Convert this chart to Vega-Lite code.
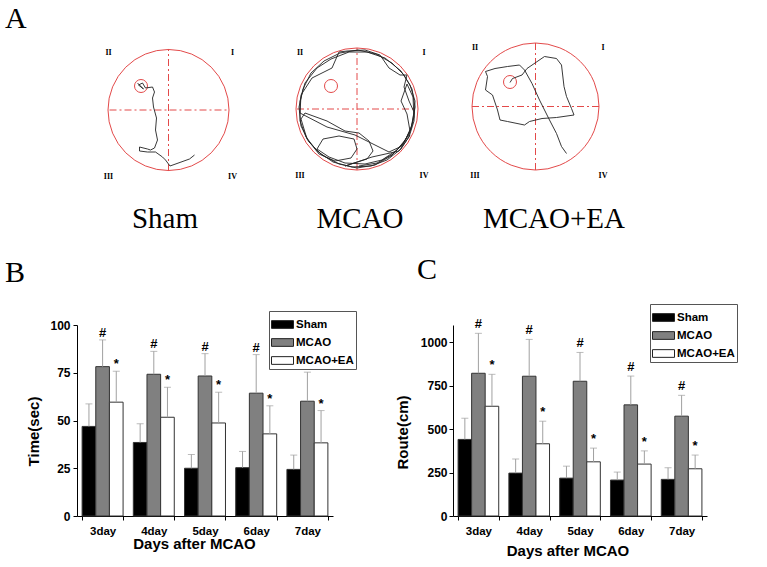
{
  "$schema": "https://vega.github.io/schema/vega-lite/v6.json",
  "background": "white",
  "padding": {"left": 5, "top": 4, "right": 0, "bottom": 0},
  "config": {
    "view": {"stroke": null},
    "font": "Liberation Sans",
    "title": {"color": "black"},
    "axis": {"labelFont": "Liberation Sans", "labelFontWeight": "bold", "titleFont": "Liberation Sans", "titleFontWeight": "bold", "titleFontSize": 15, "labelColor": "black", "titleColor": "black", "domainColor": "black", "tickColor": "black", "grid": false}
  },
  "resolve": {"scale": {"x": "independent", "y": "independent", "fill": "independent"}},
  "spacing": 20,
  "vconcat": [
    {
      "title": {"text": "A", "anchor": "start", "frame": "group", "font": "Liberation Serif", "fontSize": 30, "fontWeight": "normal", "dx": -72, "offset": -18, "baseline": "alphabetic"},
      "spacing": 33,
      "bounds": "flush",
      "resolve": {"scale": {"x": "independent", "y": "independent"}},
      "hconcat": [
        {
          "width": 166, "height": 145,
          "title": {"text": "Sham", "orient": "bottom", "anchor": "middle", "font": "Liberation Serif", "fontSize": 29, "fontWeight": "normal", "offset": 20, "dx": 5, "baseline": "top"},
          "encoding": {
            "x": {"field": "x", "type": "quantitative", "scale": {"domain": [-91.5, 74.5], "nice": false, "zero": false}, "axis": null},
            "y": {"field": "y", "type": "quantitative", "scale": {"domain": [-75, 70], "nice": false, "zero": false}, "axis": null}
          },
          "layer": [
            {"data": {"values": [{"x": 0, "y": 0}]}, "mark": {"type": "point", "shape": "circle", "size": 14641, "filled": false, "color": "#e34a4a", "strokeWidth": 1, "opacity": 1}},
            {"data": {"values": [{"x": -59, "x2": 59, "y": 0, "y2": 0}, {"x": 0, "x2": 0, "y": -61, "y2": 61}]}, "mark": {"type": "rule", "color": "#e34a4a", "strokeWidth": 1, "strokeDash": [7, 3, 2, 3]}, "encoding": {"x2": {"field": "x2"}, "y2": {"field": "y2"}}},
            {"data": {"values": [{"x": -27.5, "y": 24}]}, "mark": {"type": "point", "shape": "circle", "size": 169, "filled": false, "color": "#e34a4a", "strokeWidth": 1, "opacity": 1}},
            {"data": {"values": [
              {"i": 1, "x": 26, "y": -45}, {"i": 2, "x": 21, "y": -49}, {"i": 3, "x": 1.5, "y": -56}, {"i": 4, "x": -3, "y": -50}, {"i": 5, "x": -6, "y": -47}, {"i": 6, "x": -13, "y": -42}, {"i": 7, "x": -21, "y": -42}, {"i": 8, "x": -29, "y": -41}, {"i": 9, "x": -29, "y": -37}, {"i": 10, "x": -21, "y": -39}, {"i": 11, "x": -18, "y": -40}, {"i": 12, "x": -14, "y": -38}, {"i": 13, "x": -11, "y": -30}, {"i": 14, "x": -13, "y": -20}, {"i": 15, "x": -12, "y": -8}, {"i": 16, "x": -15, "y": 3}, {"i": 17, "x": -16, "y": 12}, {"i": 18, "x": -14, "y": 18}, {"i": 19, "x": -16, "y": 23}, {"i": 20, "x": -23, "y": 22}, {"i": 21, "x": -26, "y": 27}, {"i": 22, "x": -30, "y": 25}, {"i": 23, "x": -25, "y": 21}, {"i": 24, "x": -31, "y": 27}
            ]}, "mark": {"type": "line", "color": "#222222", "strokeWidth": 0.9}, "encoding": {"order": {"field": "i", "type": "quantitative"}}},
            {"data": {"values": [{"x": -60, "y": 57, "t": "II"}, {"x": 64, "y": 57, "t": "I"}, {"x": -60, "y": -67, "t": "III"}, {"x": 64, "y": -67, "t": "IV"}]}, "mark": {"type": "text", "font": "Liberation Serif", "fontWeight": "bold", "fontSize": 8, "align": "center", "baseline": "middle", "color": "black"}, "encoding": {"text": {"field": "t"}}}
          ]
        },
        {
          "width": 150, "height": 145,
          "title": {"text": "MCAO", "orient": "bottom", "anchor": "middle", "font": "Liberation Serif", "fontSize": 29, "fontWeight": "normal", "offset": 20, "dx": 9, "baseline": "top"},
          "encoding": {
            "x": {"field": "x", "type": "quantitative", "scale": {"domain": [-81, 69], "nice": false, "zero": false}, "axis": null},
            "y": {"field": "y", "type": "quantitative", "scale": {"domain": [-76, 69], "nice": false, "zero": false}, "axis": null}
          },
          "layer": [
            {"data": {"values": [{"x": 0, "y": 0}]}, "mark": {"type": "point", "shape": "circle", "size": 14884, "filled": false, "color": "#e34a4a", "strokeWidth": 1, "opacity": 1}},
            {"data": {"values": [{"x": -60, "x2": 60, "y": 0, "y2": 0}, {"x": 0, "x2": 0, "y": -61, "y2": 61}]}, "mark": {"type": "rule", "color": "#e34a4a", "strokeWidth": 1, "strokeDash": [7, 3, 2, 3]}, "encoding": {"x2": {"field": "x2"}, "y2": {"field": "y2"}}},
            {"data": {"values": [{"x": -26, "y": 23}]}, "mark": {"type": "point", "shape": "circle", "size": 169, "filled": false, "color": "#e34a4a", "strokeWidth": 1, "opacity": 1}},
            {"data": {"values": [
              {"i": 1, "x": 2, "y": -57}, {"i": 2, "x": 20, "y": -54}, {"i": 3, "x": 36, "y": -45}, {"i": 4, "x": 48, "y": -32}, {"i": 5, "x": 55, "y": -16}, {"i": 6, "x": 58, "y": 2}, {"i": 7, "x": 55, "y": 20}, {"i": 8, "x": 47, "y": 34}, {"i": 9, "x": 35, "y": 46}, {"i": 10, "x": 19, "y": 55},
              {"i": 11, "x": 1, "y": 59}, {"i": 12, "x": -17, "y": 56}, {"i": 13, "x": -33, "y": 48}, {"i": 14, "x": -46, "y": 36}, {"i": 15, "x": -54, "y": 20}, {"i": 16, "x": -58, "y": 2}, {"i": 17, "x": -56, "y": -17}, {"i": 18, "x": -48, "y": -33}, {"i": 19, "x": -35, "y": -46}, {"i": 20, "x": -18, "y": -55},
              {"i": 21, "x": 0, "y": -59}, {"i": 22, "x": 18, "y": -56}, {"i": 23, "x": 34, "y": -47}, {"i": 24, "x": 46, "y": -35}, {"i": 25, "x": 54, "y": -20}, {"i": 26, "x": 57, "y": -3}, {"i": 27, "x": 52, "y": 8}, {"i": 28, "x": 47, "y": 22}, {"i": 29, "x": 50, "y": 34}, {"i": 30, "x": 43, "y": 34},
              {"i": 31, "x": 32, "y": 41}, {"i": 32, "x": 23, "y": 54}, {"i": 33, "x": 8, "y": 59}, {"i": 34, "x": -10, "y": 58}, {"i": 35, "x": -18, "y": 57}, {"i": 36, "x": -25, "y": 41}, {"i": 37, "x": -45, "y": 31}, {"i": 38, "x": -56, "y": 14}, {"i": 39, "x": -57, "y": -4}, {"i": 40, "x": -30, "y": -18},
              {"i": 41, "x": -2, "y": -26}, {"i": 42, "x": 18, "y": -36}, {"i": 43, "x": 32, "y": -43}, {"i": 44, "x": 45, "y": -37}, {"i": 45, "x": 53, "y": -22}, {"i": 46, "x": 50, "y": -5}, {"i": 47, "x": 44, "y": 8}, {"i": 48, "x": 50, "y": 25}, {"i": 49, "x": 56, "y": 12}, {"i": 50, "x": 57, "y": -8},
              {"i": 51, "x": 52, "y": -26}, {"i": 52, "x": 40, "y": -41}, {"i": 53, "x": 25, "y": -51}, {"i": 54, "x": 8, "y": -55}, {"i": 55, "x": -12, "y": -54}, {"i": 56, "x": -28, "y": -48}, {"i": 57, "x": -40, "y": -40}, {"i": 58, "x": -34, "y": -30}, {"i": 59, "x": -18, "y": -27}, {"i": 60, "x": -3, "y": -30},
              {"i": 61, "x": 0, "y": -40}, {"i": 62, "x": -6, "y": -49}, {"i": 63, "x": -22, "y": -52}, {"i": 64, "x": -38, "y": -45}, {"i": 65, "x": -50, "y": -30}, {"i": 66, "x": -56, "y": -10}, {"i": 67, "x": -52, "y": -4}, {"i": 68, "x": -30, "y": -12}, {"i": 69, "x": -12, "y": -22}, {"i": 70, "x": 2, "y": -24},
              {"i": 71, "x": 12, "y": -32}, {"i": 72, "x": 16, "y": -42}, {"i": 73, "x": 10, "y": -50}, {"i": 74, "x": -12, "y": -57}, {"i": 75, "x": 15, "y": -48}, {"i": 76, "x": 42, "y": -42}, {"i": 77, "x": 52, "y": -28}, {"i": 78, "x": 57, "y": -12}, {"i": 79, "x": 58, "y": 8}, {"i": 80, "x": 53, "y": 24},
              {"i": 81, "x": 44, "y": 38}, {"i": 82, "x": 28, "y": 51}, {"i": 83, "x": 10, "y": 57}, {"i": 84, "x": -8, "y": 57}, {"i": 85, "x": -26, "y": 50}, {"i": 86, "x": -40, "y": 41}, {"i": 87, "x": -52, "y": 26}, {"i": 88, "x": -57, "y": 8}, {"i": 89, "x": -57, "y": -12}, {"i": 90, "x": -51, "y": -28},
              {"i": 91, "x": -40, "y": -42}, {"i": 92, "x": -24, "y": -53}, {"i": 93, "x": -5, "y": -58}, {"i": 94, "x": 14, "y": -57}, {"i": 95, "x": 30, "y": -51}, {"i": 96, "x": 44, "y": -40}, {"i": 97, "x": 53, "y": -26}
            ]}, "mark": {"type": "line", "color": "#222222", "strokeWidth": 0.9}, "encoding": {"order": {"field": "i", "type": "quantitative"}}},
            {"data": {"values": [{"x": -57, "y": 56, "t": "II"}, {"x": 67, "y": 56, "t": "I"}, {"x": -57, "y": -67, "t": "III"}, {"x": 67, "y": -67, "t": "IV"}]}, "mark": {"type": "text", "font": "Liberation Serif", "fontWeight": "bold", "fontSize": 8, "align": "center", "baseline": "middle", "color": "black"}, "encoding": {"text": {"field": "t"}}}
          ]
        },
        {
          "width": 150, "height": 145,
          "title": {"text": "MCAO+EA", "orient": "bottom", "anchor": "middle", "font": "Liberation Serif", "fontSize": 29, "fontWeight": "normal", "offset": 20, "dx": 20, "baseline": "top"},
          "encoding": {
            "x": {"field": "x", "type": "quantitative", "scale": {"domain": [-76.5, 73.5], "nice": false, "zero": false}, "axis": null},
            "y": {"field": "y", "type": "quantitative", "scale": {"domain": [-78.5, 66.5], "nice": false, "zero": false}, "axis": null}
          },
          "layer": [
            {"data": {"values": [{"x": 0, "y": 0}]}, "mark": {"type": "point", "shape": "circle", "size": 16129, "filled": false, "color": "#e34a4a", "strokeWidth": 1, "opacity": 1}},
            {"data": {"values": [{"x": -63.5, "x2": 63.5, "y": 0, "y2": 0}, {"x": 0, "x2": 0, "y": -63.5, "y2": 63.5}]}, "mark": {"type": "rule", "color": "#e34a4a", "strokeWidth": 1, "strokeDash": [7, 3, 2, 3]}, "encoding": {"x2": {"field": "x2"}, "y2": {"field": "y2"}}},
            {"data": {"values": [{"x": -25.5, "y": 24.5}]}, "mark": {"type": "point", "shape": "circle", "size": 169, "filled": false, "color": "#e34a4a", "strokeWidth": 1, "opacity": 1}},
            {"data": {"values": [
              {"i": 1, "x": 31, "y": -47}, {"i": 2, "x": 26, "y": -40}, {"i": 3, "x": 21, "y": -27}, {"i": 4, "x": 14, "y": -13.5}, {"i": 5, "x": 4, "y": 6.5}, {"i": 6, "x": -3.5, "y": 23}, {"i": 7, "x": -11, "y": 36.5}, {"i": 8, "x": -16, "y": 41.5}, {"i": 9, "x": -28, "y": 40}, {"i": 10, "x": -40.5, "y": 38},
              {"i": 11, "x": -50, "y": 35}, {"i": 12, "x": -48, "y": 30}, {"i": 13, "x": -50, "y": 16.5}, {"i": 14, "x": -43, "y": 11.5}, {"i": 15, "x": -38, "y": -3.5}, {"i": 16, "x": -35.5, "y": -13.5}, {"i": 17, "x": -28, "y": -15}, {"i": 18, "x": -11, "y": -18.5}, {"i": 19, "x": -6, "y": -15}, {"i": 20, "x": 6.5, "y": -12},
              {"i": 21, "x": 21, "y": -11}, {"i": 22, "x": 38.5, "y": -8.5}, {"i": 23, "x": 36, "y": -2}, {"i": 24, "x": 31, "y": 10}, {"i": 25, "x": 28.5, "y": 20}, {"i": 26, "x": 26, "y": 41.5}, {"i": 27, "x": 21, "y": 48}, {"i": 28, "x": 9, "y": 50}, {"i": 29, "x": -8.5, "y": 38}, {"i": 30, "x": -13.5, "y": 31.5},
              {"i": 31, "x": -23, "y": 28}, {"i": 32, "x": -25.5, "y": 24}
            ]}, "mark": {"type": "line", "color": "#222222", "strokeWidth": 0.9}, "encoding": {"order": {"field": "i", "type": "quantitative"}}},
            {"data": {"values": [{"x": -60.5, "y": 58.5, "t": "II"}, {"x": 67.5, "y": 58.5, "t": "I"}, {"x": -60.5, "y": -69.5, "t": "III"}, {"x": 67.5, "y": -69.5, "t": "IV"}]}, "mark": {"type": "text", "font": "Liberation Serif", "fontWeight": "bold", "fontSize": 8, "align": "center", "baseline": "middle", "color": "black"}, "encoding": {"text": {"field": "t"}}}
          ]
        }
      ]
    },
    {
      "spacing": 120,
      "bounds": "flush",
      "resolve": {"scale": {"x": "independent", "y": "independent", "xOffset": "independent", "fill": "independent"}, "legend": {"fill": "independent"}},
      "hconcat": [
        {
          "width": 256, "height": 191,
          "title": {"text": "B", "anchor": "start", "frame": "group", "font": "Liberation Serif", "fontSize": 30, "fontWeight": "normal", "dx": -72, "offset": -1, "baseline": "alphabetic"},
          "data": {"values": [
            {"day": "3day", "group": "Sham", "value": 46.9, "upper": 58.7, "sig": ""},
            {"day": "3day", "group": "MCAO", "value": 78.2, "upper": 92.2, "sig": "#"},
            {"day": "3day", "group": "MCAO+EA", "value": 59.6, "upper": 75.8, "sig": "*"},
            {"day": "4day", "group": "Sham", "value": 38.5, "upper": 48.3, "sig": ""},
            {"day": "4day", "group": "MCAO", "value": 74.2, "upper": 86.2, "sig": "#"},
            {"day": "4day", "group": "MCAO+EA", "value": 51.7, "upper": 67.4, "sig": "*"},
            {"day": "5day", "group": "Sham", "value": 25.0, "upper": 32.2, "sig": ""},
            {"day": "5day", "group": "MCAO", "value": 73.3, "upper": 85.0, "sig": "#"},
            {"day": "5day", "group": "MCAO+EA", "value": 48.7, "upper": 64.8, "sig": "*"},
            {"day": "6day", "group": "Sham", "value": 25.3, "upper": 33.8, "sig": ""},
            {"day": "6day", "group": "MCAO", "value": 64.3, "upper": 84.5, "sig": "#"},
            {"day": "6day", "group": "MCAO+EA", "value": 43.0, "upper": 57.7, "sig": "*"},
            {"day": "7day", "group": "Sham", "value": 24.4, "upper": 31.9, "sig": ""},
            {"day": "7day", "group": "MCAO", "value": 60.1, "upper": 75.3, "sig": "#"},
            {"day": "7day", "group": "MCAO+EA", "value": 38.3, "upper": 55.2, "sig": "*"}
          ]},
          "encoding": {
            "x": {"field": "day", "type": "nominal", "sort": ["3day", "4day", "5day", "6day", "7day"], "scale": {"paddingInner": 0.2, "paddingOuter": 0.1}, "axis": {"title": "Days after MCAO", "labelAngle": 0, "tickBand": "extent", "tickSize": 4, "labelPadding": 5, "labelFontSize": 11.5, "titlePadding": 0, "titleX": 117}},
            "xOffset": {"field": "group", "type": "nominal", "sort": ["Sham", "MCAO", "MCAO+EA"]}
          },
          "layer": [
            {"mark": {"type": "bar", "stroke": "#333333", "strokeWidth": 1},
             "encoding": {
               "y": {"field": "value", "type": "quantitative", "title": "Time(sec)", "scale": {"domain": [0, 100], "nice": false}, "axis": {"values": [0, 25, 50, 75, 100], "format": "d", "tickSize": 4, "labelPadding": 3, "labelFontSize": 12, "titlePadding": 8, "titleY": 106}},
               "fill": {"field": "group", "type": "nominal", "sort": ["Sham", "MCAO", "MCAO+EA"], "scale": {"domain": ["Sham", "MCAO", "MCAO+EA"], "range": ["#000000", "#808080", "#ffffff"]},
                 "legend": {"title": null, "orient": "none", "legendX": 192, "legendY": -14, "direction": "vertical", "symbolType": "M-1,-0.35H1V0.35H-1Z", "symbolSize": 484, "symbolStrokeColor": "#222222", "symbolStrokeWidth": 1, "labelFont": "Liberation Sans", "labelFontWeight": "bold", "labelFontSize": 11.5, "labelColor": "black", "labelOffset": 2, "rowPadding": -1, "padding": 2, "strokeColor": "#555555", "fillColor": "white"}}
             }},
            {"mark": {"type": "rule", "color": "#a0a0a0", "strokeWidth": 1}, "encoding": {"y": {"field": "value", "type": "quantitative", "title": "Time(sec)"}, "y2": {"field": "upper"}}},
            {"mark": {"type": "tick", "color": "#a0a0a0", "size": 7, "thickness": 1}, "encoding": {"y": {"field": "upper", "type": "quantitative", "title": "Time(sec)"}}},
            {"mark": {"type": "text", "dy": -3, "baseline": "alphabetic", "fontSize": 13, "fontWeight": "bold", "color": "black"}, "encoding": {"y": {"field": "upper", "type": "quantitative", "title": "Time(sec)"}, "text": {"field": "sig"}}}
          ]
        },
        {
          "width": 254, "height": 191,
          "title": {"text": "C", "anchor": "start", "frame": "group", "font": "Liberation Serif", "fontSize": 30, "fontWeight": "normal", "dx": -36, "offset": -5, "baseline": "alphabetic"},
          "data": {"values": [
            {"day": "3day", "group": "Sham", "value": 441, "upper": 563, "sig": ""},
            {"day": "3day", "group": "MCAO", "value": 822, "upper": 1052, "sig": "#"},
            {"day": "3day", "group": "MCAO+EA", "value": 632, "upper": 816, "sig": "*"},
            {"day": "4day", "group": "Sham", "value": 247, "upper": 328, "sig": ""},
            {"day": "4day", "group": "MCAO", "value": 805, "upper": 1017, "sig": "#"},
            {"day": "4day", "group": "MCAO+EA", "value": 416, "upper": 546, "sig": "*"},
            {"day": "5day", "group": "Sham", "value": 218, "upper": 287, "sig": ""},
            {"day": "5day", "group": "MCAO", "value": 776, "upper": 942, "sig": "#"},
            {"day": "5day", "group": "MCAO+EA", "value": 312, "upper": 391, "sig": "*"},
            {"day": "6day", "group": "Sham", "value": 207, "upper": 253, "sig": ""},
            {"day": "6day", "group": "MCAO", "value": 640, "upper": 806, "sig": "#"},
            {"day": "6day", "group": "MCAO+EA", "value": 299, "upper": 375, "sig": "*"},
            {"day": "7day", "group": "Sham", "value": 211, "upper": 278, "sig": ""},
            {"day": "7day", "group": "MCAO", "value": 575, "upper": 695, "sig": "#"},
            {"day": "7day", "group": "MCAO+EA", "value": 272, "upper": 351, "sig": "*"}
          ]},
          "encoding": {
            "x": {"field": "day", "type": "nominal", "sort": ["3day", "4day", "5day", "6day", "7day"], "scale": {"paddingInner": 0.2, "paddingOuter": 0.1}, "axis": {"title": "Days after MCAO", "labelAngle": 0, "tickBand": "extent", "tickSize": 4, "labelPadding": 5, "labelFontSize": 11.5, "titlePadding": 7, "titleX": 114.5}},
            "xOffset": {"field": "group", "type": "nominal", "sort": ["Sham", "MCAO", "MCAO+EA"]}
          },
          "layer": [
            {"mark": {"type": "bar", "stroke": "#333333", "strokeWidth": 1},
             "encoding": {
               "y": {"field": "value", "type": "quantitative", "title": "Route(cm)", "scale": {"domain": [0, 1100], "nice": false}, "axis": {"values": [0, 250, 500, 750, 1000], "format": "d", "tickSize": 4, "labelPadding": 2, "labelFontSize": 12, "titlePadding": 10, "titleY": 107}},
               "fill": {"field": "group", "type": "nominal", "sort": ["Sham", "MCAO", "MCAO+EA"], "scale": {"domain": ["Sham", "MCAO", "MCAO+EA"], "range": ["#000000", "#808080", "#ffffff"]},
                 "legend": {"title": null, "orient": "none", "legendX": 197, "legendY": -21, "direction": "vertical", "symbolType": "M-1,-0.35H1V0.35H-1Z", "symbolSize": 484, "symbolStrokeColor": "#222222", "symbolStrokeWidth": 1, "labelFont": "Liberation Sans", "labelFontWeight": "bold", "labelFontSize": 11.5, "labelColor": "black", "labelOffset": 2, "rowPadding": -1, "padding": 2, "strokeColor": "#555555", "fillColor": "white"}}
             }},
            {"mark": {"type": "rule", "color": "#a0a0a0", "strokeWidth": 1}, "encoding": {"y": {"field": "value", "type": "quantitative", "title": "Route(cm)"}, "y2": {"field": "upper"}}},
            {"mark": {"type": "tick", "color": "#a0a0a0", "size": 7, "thickness": 1}, "encoding": {"y": {"field": "upper", "type": "quantitative", "title": "Route(cm)"}}},
            {"mark": {"type": "text", "dy": -5, "baseline": "alphabetic", "fontSize": 13, "fontWeight": "bold", "color": "black"}, "encoding": {"y": {"field": "upper", "type": "quantitative", "title": "Route(cm)"}, "text": {"field": "sig"}}}
          ]
        }
      ]
    }
  ]
}
